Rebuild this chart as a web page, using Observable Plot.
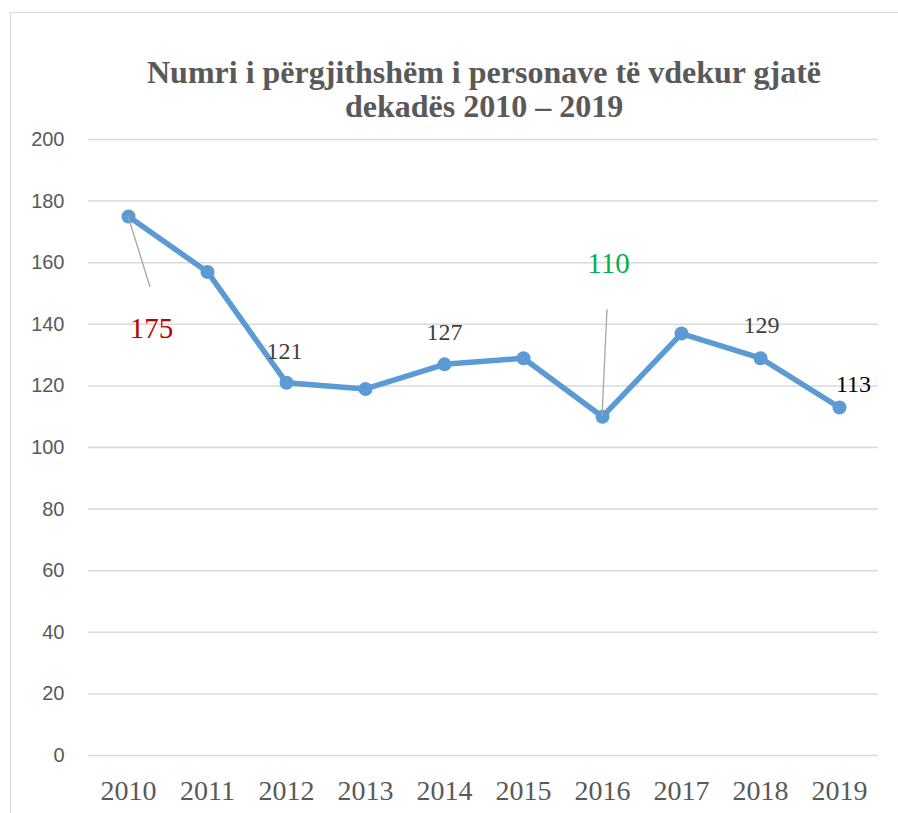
<!DOCTYPE html>
<html><head><meta charset="utf-8">
<script src="https://cdn.jsdelivr.net/npm/d3@7"></script>
<script src="https://cdn.jsdelivr.net/npm/@observablehq/plot@0.6"></script>
<style>
body{margin:0;background:#fff;}
#wrap{position:relative;width:898px;height:813px;overflow:hidden;background:#fff;}
#frame{position:absolute;left:10px;top:12px;width:900px;height:810px;border-left:1.5px solid #d9d9d9;border-top:1.5px solid #d9d9d9;}
#title{position:absolute;left:70px;width:828px;top:55px;text-align:center;font:bold 32px/34px "Liberation Serif","Times New Roman",serif;color:#595959;}
#chart{position:absolute;left:0;top:100px;}
#chart g[aria-label="x-axis tick label"]{color:#595959;}
#chart g[aria-label="y-axis tick label"]{color:#595959;}
</style></head>
<body>
<div id="wrap">
  <div id="frame"></div>
  <div id="title">Numri i përgjithshëm i personave të vdekur gjatë<br>dekadës 2010 – 2019</div>
  <div id="chart"></div>
</div>
<script>
// ---- data ----
const years = [2010, 2011, 2012, 2013, 2014, 2015, 2016, 2017, 2018, 2019];
const deaths = [175, 157, 121, 119, 127, 129, 110, 137, 129, 113];
const yTicks = [0, 20, 40, 60, 80, 100, 120, 140, 160, 180, 200];
const labelYears = [2010, 2012, 2014, 2016, 2018, 2019];
const leaderYears = [2010, 2016];

// ---- build ----
const data = years.map((year, i) => ({year, value: deaths[i]}));
const valueOf = y => deaths[years.indexOf(y)];

const serif = "'Liberation Serif','Times New Roman',serif";
const labelStyle = {
  2010: {fill: "#C00000", fontSize: 29, dx: 23, dy: 112},
  2012: {fill: "#404040", fontSize: 24, dx: -2, dy: -31.7},
  2014: {fill: "#404040", fontSize: 24, dx: 0, dy: -31.7},
  2016: {fill: "#00B050", fontSize: 29, dx: 6, dy: -153},
  2018: {fill: "#404040", fontSize: 24, dx: 1, dy: -32.7},
  2019: {fill: "#000000", fontSize: 24, dx: 14, dy: -22.7}
};
const leaderOffset = {
  2010: [22, 71],
  2016: [5, -107]
};

const labelMarks = labelYears.map(y =>
  Plot.text([{year: y, value: valueOf(y)}], {
    x: "year", y: "value", text: d => String(d.value),
    fontFamily: serif, textAnchor: "middle", ...labelStyle[y]
  })
);

const leaders = (index, scales) => {
  const g = d3.create("svg:g").attr("aria-label", "leader lines");
  for (const y of leaderYears) {
    const x0 = scales.x(y), y0 = scales.y(valueOf(y));
    const [ox, oy] = leaderOffset[y];
    g.append("line")
      .attr("x1", x0).attr("y1", y0)
      .attr("x2", x0 + ox).attr("y2", y0 + oy)
      .attr("stroke", "#a6a6a6").attr("stroke-width", 1.3);
  }
  return g.node();
};

const chart = Plot.plot({
  width: 898,
  height: 713,
  marginTop: 39,
  marginBottom: 58,
  marginLeft: 88,
  marginRight: 20,
  style: {background: "transparent"},
  x: {type: "point", domain: years, padding: 0.5, label: null},
  y: {domain: [0, 200], label: null},
  marks: [
    Plot.gridY(yTicks, {stroke: "#d9d9d9", strokeOpacity: 1, strokeWidth: 1.5}),
    Plot.axisY(yTicks, {tickSize: 0, tickPadding: 24, fontSize: 20,
      fontFamily: "'Liberation Sans',Arial,sans-serif", label: null}),
    Plot.axisX(years, {tickSize: 0, tickPadding: 25, fontSize: 28,
      fontFamily: serif, tickFormat: d => String(d), label: null}),
    Plot.line(data, {x: "year", y: "value", stroke: "#5B9BD5", strokeWidth: 5.5,
      strokeLinejoin: "round", strokeLinecap: "round"}),
    Plot.dot(data, {x: "year", y: "value", r: 7, fill: "#5B9BD5", stroke: "none"}),
    leaders,
    ...labelMarks
  ]
});
document.getElementById("chart").appendChild(chart);
</script>
</body></html>
